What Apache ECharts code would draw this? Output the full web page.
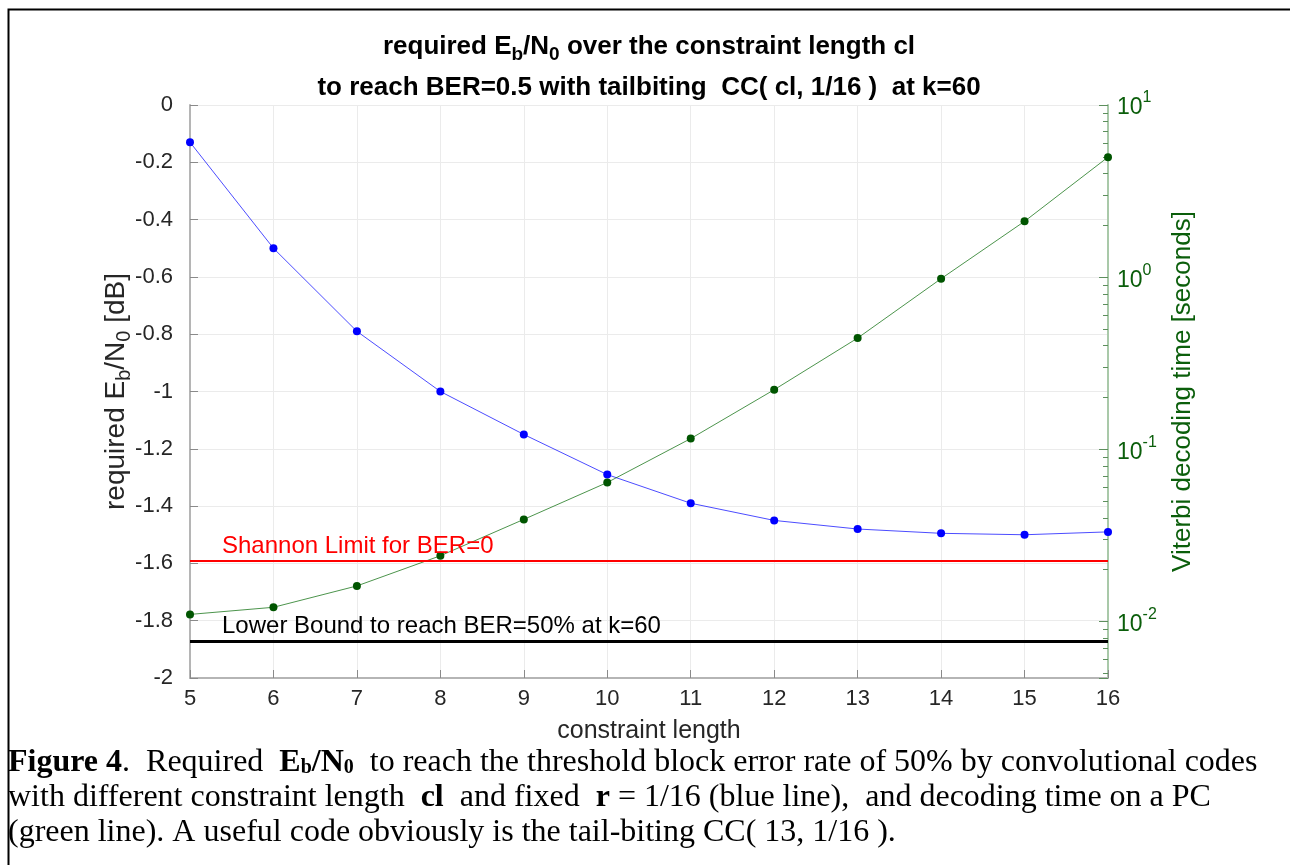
<!DOCTYPE html>
<html><head><meta charset="utf-8">
<script src="https://cdn.jsdelivr.net/npm/echarts@6/dist/echarts.min.js"></script>
<style>html,body{margin:0;padding:0;background:#fff;} #c{width:1290px;height:865px;}</style>
</head><body><div id="c"></div>
<script>
// ---- data ----
const constraintLength = [5, 6, 7, 8, 9, 10, 11, 12, 13, 14, 15, 16];
const requiredEbN0 = [-0.13, -0.50, -0.79, -1.00, -1.15, -1.29, -1.39, -1.45, -1.48, -1.495, -1.50, -1.49];
const decodingTime = [0.0110, 0.0121, 0.0161, 0.0241, 0.0392, 0.0642, 0.1155, 0.222, 0.443, 0.98, 2.11, 4.98];
const shannonLimit = -1.59;
const lowerBound = -1.87;
const xRange = [5, 16];
const leftRange = [-2, 0];
const leftStep = 0.2;
const rightRange = [0.0047, 10];
const shannonLabel = 'Shannon Limit for BER=0';
const lowerLabel = 'Lower Bound to reach BER=50% at k=60';
const titleLine1 = '{t|required E}{s|b}{t|/N}{s|0}{t| over the constraint length cl}';
const titleLine2 = 'to reach BER=0.5 with tailbiting  CC( cl, 1/16 )  at k=60';
const captionLines = [
  '{b|Figure 4}.  Required  {b|E}{bs|b}{b|/N}{bs|0}  to reach the threshold block error rate of 50% by convolutional codes',
  'with different constraint length  {b|cl}  and fixed  {b|r} = 1/16 (blue line),  and decoding time on a PC',
  '(green line). A useful code obviously is the tail-biting CC( 13, 1/16 ).'
];

const SANS = 'Liberation Sans, Arial, sans-serif';
const SERIF = 'Liberation Serif, Times New Roman, serif';
const GREEN = '#0b5e0b';
const CAP = 32;

const chart = echarts.init(document.getElementById('c'), null, {renderer: 'canvas'});

const capRich = {
  b: {fontFamily: SERIF, fontSize: CAP, fontWeight: 'bold', color: '#000'},
  bs: {fontFamily: SERIF, fontSize: 20, fontWeight: 'bold', color: '#000', padding: [10, 0, 0, 0]}
};

const option = {
  animation: false,
  backgroundColor: '#fff',
  grid: {left: 190, right: 182, top: 105, bottom: 187, containLabel: false},
  xAxis: {
    type: 'value', min: xRange[0], max: xRange[1], interval: 1,
    name: 'constraint length', nameLocation: 'middle', nameGap: 41,
    nameTextStyle: {fontFamily: SANS, fontSize: 25, color: '#262626'},
    axisLine: {show: true, onZero: false, lineStyle: {color: '#b5b5b5', width: 2}},
    axisTick: {show: true, inside: true, length: 8, lineStyle: {color: '#8a8a8a'}},
    axisLabel: {fontFamily: SANS, fontSize: 22, color: '#262626', margin: 10},
    splitLine: {show: true, lineStyle: {color: '#ebebeb', width: 1}}
  },
  yAxis: [{
    type: 'value', min: leftRange[0], max: leftRange[1], interval: leftStep, position: 'left',
    name: '{n|required E}{s|b}{n|/N}{s|0}{n| [dB]}', nameLocation: 'middle', nameGap: 56, nameRotate: 90,
    nameMoveOverlap: false,
    nameTextStyle: {rich: {
      n: {fontFamily: SANS, fontSize: 28, color: '#262626'},
      s: {fontFamily: SANS, fontSize: 20, color: '#262626', padding: [16, 0, 0, 0]}
    }},
    axisLine: {show: true, onZero: false, lineStyle: {color: '#b5b5b5', width: 2}},
    axisTick: {show: true, inside: true, length: 8, lineStyle: {color: '#8a8a8a'}},
    axisLabel: {fontFamily: SANS, fontSize: 22, color: '#262626', margin: 17},
    splitLine: {show: true, lineStyle: {color: '#ebebeb', width: 1}}
  }, {
    type: 'log', logBase: 10, min: rightRange[0], max: rightRange[1], position: 'right',
    name: 'Viterbi decoding time [seconds]', nameLocation: 'middle', nameGap: 62, nameRotate: 90,
    nameTextStyle: {fontFamily: SANS, fontSize: 26, color: GREEN},
    axisLine: {show: true, onZero: false, lineStyle: {color: '#a9c9a9', width: 2}},
    axisTick: {show: true, inside: true, length: 9, lineStyle: {color: '#5d8f5d'}},
    minorTick: {show: true, splitNumber: 9, length: 5, lineStyle: {color: '#5d8f5d'}},
    axisLabel: {
      margin: 9, color: GREEN,
      formatter: function (v) {
        const l = Math.log10(v), e = Math.round(l);
        if (Math.abs(l - e) > 1e-6) return '';
        return '{b|10}{e|' + e + '}';
      },
      rich: {
        b: {fontFamily: SANS, fontSize: 23, color: GREEN, padding: [6, 0, 0, 0]},
        e: {fontFamily: SANS, fontSize: 16, color: GREEN, padding: [0, 0, 14, 0]}
      }
    },
    splitLine: {show: false}
  }],
  series: [{
    type: 'line', yAxisIndex: 0, z: 3,
    data: constraintLength.map((c, i) => [c, requiredEbN0[i]]),
    symbol: 'circle', symbolSize: 8,
    itemStyle: {color: '#0000ff'},
    lineStyle: {color: '#0000ff', width: 1, opacity: 0.7},
    markLine: {
      silent: true, symbol: 'none', animation: false,
      data: [{
        yAxis: shannonLimit,
        lineStyle: {color: '#ff0000', width: 2, type: 'solid'},
        label: {show: true, position: 'insideStartTop', formatter: shannonLabel, fontFamily: SANS, fontSize: 24, color: '#ff0000', padding: [0, 0, 0, 30], distance: 2}
      }, {
        yAxis: lowerBound,
        lineStyle: {color: '#000000', width: 3, type: 'solid'},
        label: {show: true, position: 'insideStartTop', formatter: lowerLabel, fontFamily: SANS, fontSize: 24, color: '#000000', padding: [0, 0, 0, 30], distance: 2}
      }]
    }
  }, {
    type: 'line', yAxisIndex: 1, z: 4,
    data: constraintLength.map((c, i) => [c, decodingTime[i]]),
    symbol: 'circle', symbolSize: 8,
    itemStyle: {color: '#005500'},
    lineStyle: {color: '#006600', width: 1, opacity: 0.7}
  }],
  graphic: [
    {type: 'rect', left: 6, top: 7, shape: {x: 0, y: 0, width: 1300, height: 900}, style: {fill: 'none', stroke: '#000', lineWidth: 2}, silent: true},
    {type: 'text', x: 649, y: 47, style: {text: titleLine1, textAlign: 'center', textVerticalAlign: 'middle', fontFamily: SANS, fontSize: 26, fontWeight: 'bold', fill: '#000',
      rich: {t: {fontFamily: SANS, fontSize: 26, fontWeight: 'bold', color: '#000'}, s: {fontFamily: SANS, fontSize: 19, fontWeight: 'bold', color: '#000', padding: [16, 0, 0, 0]}}}},
    {type: 'text', x: 649, y: 88, style: {text: titleLine2, textAlign: 'center', textVerticalAlign: 'middle', fontFamily: SANS, fontSize: 26, fontWeight: 'bold', fill: '#000'}},
    {type: 'text', x: 8, y: 763, style: {text: captionLines[0], textAlign: 'left', textVerticalAlign: 'middle', fontFamily: SERIF, fontSize: CAP, fill: '#000', rich: capRich}},
    {type: 'text', x: 8, y: 798, style: {text: captionLines[1], textAlign: 'left', textVerticalAlign: 'middle', fontFamily: SERIF, fontSize: CAP, fill: '#000', rich: capRich}},
    {type: 'text', x: 8, y: 833, style: {text: captionLines[2], textAlign: 'left', textVerticalAlign: 'middle', fontFamily: SERIF, fontSize: CAP, fill: '#000', rich: capRich}}
  ]
};
chart.setOption(option);
</script>
</body></html>
